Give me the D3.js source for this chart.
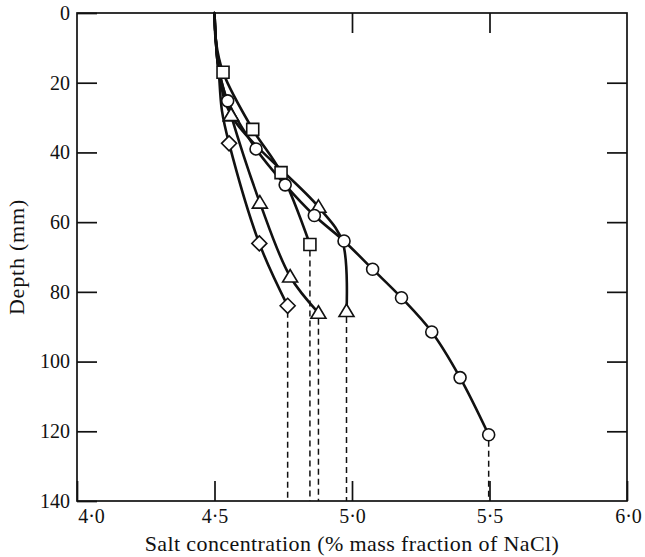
<!DOCTYPE html>
<html>
<head>
<meta charset="utf-8">
<script src="https://cdn.jsdelivr.net/npm/d3@7"></script>
<style>
  html, body { margin: 0; padding: 0; background: #fff; }
  svg { display: block; }
  text { font-family: "Liberation Serif", "DejaVu Serif", serif; fill: #111; }
</style>
</head>
<body>
<svg id="chart" width="645" height="557"></svg>
<script>
// Salt concentration profiles with depth (five runs), plus the shared upper trunk.
const xTicks = [4.0, 4.5, 5.0, 5.5, 6.0];
const yTicks = [0, 20, 40, 60, 80, 100, 120, 140];

// upper part of the profiles, common to every run (no markers)
const trunkDepth = [0, 8, 16];
const trunkConc = [4.500, 4.505, 4.515];

// circles
const circleDepth = [25.2, 39.0, 49.3, 58.1, 65.4, 73.5, 81.7, 91.5, 104.6, 121.0];
const circleConc = [4.548, 4.651, 4.757, 4.863, 4.971, 5.075, 5.180, 5.290, 5.393, 5.497];

// squares
const squareDepth = [17.0, 33.4, 45.8, 66.4];
const squareConc = [4.531, 4.639, 4.742, 4.847];

// diamonds
const diamondDepth = [37.4, 66.1, 84.0];
const diamondConc = [4.553, 4.663, 4.766];
const diamondBendDepth = [28.0];
const diamondBendConc = [4.527];

// triangles, first run
const triADepth = [29.3, 54.4, 75.6, 86.0];
const triAConc = [4.560, 4.665, 4.775, 4.878];

// triangles, second run
const triBDepth = [29.3, 55.6, 85.5];
const triBConc = [4.560, 4.878, 4.980];
const triBBendDepth = [65.5];
const triBBendConc = [4.965];

const svg = d3.select("#chart");
const W = 645, H = 557;
const margin = { top: 13, right: 18, bottom: 56, left: 77 };
const x = d3.scaleLinear().domain([4, 6]).range([margin.left, W - margin.right]);
const y = d3.scaleLinear().domain([0, 140]).range([margin.top, H - margin.bottom]);

const fmt = v => d3.format(".1f")(v).replace(".", "\u00B7");

function zip(depths, concs) {
  return depths.map((d, i) => ({ d: d, c: concs[i] }));
}

function profile(markDepth, markConc, symbol, bendDepth, bendConc) {
  const marks = zip(markDepth, markConc);
  const first = markDepth[0];
  const trunk = zip(trunkDepth, trunkConc).filter(p => p.d < first - 5);
  const bends = bendDepth ? zip(bendDepth, bendConc) : [];
  const line = trunk.concat(marks, bends).sort((a, b) => a.d - b.d);
  return { marks, line, symbol };
}

const profiles = [
  profile(diamondDepth, diamondConc, "diamond", diamondBendDepth, diamondBendConc),
  profile(triADepth, triAConc, "triangle"),
  profile(squareDepth, squareConc, "square"),
  profile(triBDepth, triBConc, "triangle", triBBendDepth, triBBendConc),
  profile(circleDepth, circleConc, "circle")
];

// frame
svg.append("rect")
  .attr("x", x(4)).attr("y", y(0))
  .attr("width", x(6) - x(4)).attr("height", y(140) - y(0))
  .attr("fill", "none").attr("stroke", "#111").attr("stroke-width", 1.7);

// axes with inward ticks
const tickLen = 20;
const gBottom = svg.append("g").attr("transform", `translate(0,${y(140)})`)
  .call(d3.axisBottom(x).tickValues(xTicks).tickSizeInner(-tickLen).tickSizeOuter(0)
    .tickPadding(8).tickFormat(fmt));
const gLeft = svg.append("g").attr("transform", `translate(${x(4)},0)`)
  .call(d3.axisLeft(y).tickValues(yTicks).tickSizeInner(-tickLen).tickSizeOuter(0)
    .tickPadding(7).tickFormat(d3.format("d")));
const gTop = svg.append("g").attr("transform", `translate(0,${y(0)})`)
  .call(d3.axisTop(x).tickValues([4.5, 5.0, 5.5]).tickSizeInner(-tickLen).tickSizeOuter(0)
    .tickFormat(""));
const gRight = svg.append("g").attr("transform", `translate(${x(6)},0)`)
  .call(d3.axisRight(y).tickValues(yTicks.slice(1, -1)).tickSizeInner(-tickLen).tickSizeOuter(0)
    .tickFormat(""));

[gBottom, gLeft, gTop, gRight].forEach(g => {
  g.select(".domain").remove();
  g.selectAll(".tick line").attr("stroke", "#111").attr("stroke-width", 1.7);
  g.selectAll(".tick text").attr("font-family", "Liberation Serif").attr("font-size", 20).attr("fill", "#111");
});
// first x label sits just inside the corner
gBottom.selectAll(".tick text").filter(d => d === 4).attr("dx", 14);
gBottom.selectAll(".tick text").filter(d => d === 6).attr("dx", 1);

// axis titles
svg.append("text")
  .attr("x", (x(4) + x(6)) / 2).attr("y", 551)
  .attr("text-anchor", "middle").attr("font-size", 22).attr("letter-spacing", 0.4)
  .text("Salt concentration (% mass fraction of NaCl)");
svg.append("text")
  .attr("transform", `translate(24,${(y(0) + y(140)) / 2}) rotate(-90)`)
  .attr("text-anchor", "middle").attr("font-size", 22).attr("letter-spacing", 0.8)
  .text("Depth (mm)");

// dashed drops from the deepest point of each run to the base
svg.append("g").selectAll("line").data(profiles).join("line")
  .attr("x1", p => x(p.marks[p.marks.length - 1].c))
  .attr("x2", p => x(p.marks[p.marks.length - 1].c))
  .attr("y1", p => y(p.marks[p.marks.length - 1].d) + 6)
  .attr("y2", y(140))
  .attr("stroke", "#111").attr("stroke-width", 1.5).attr("stroke-dasharray", "6,4");

// profile curves
const lineGen = d3.line().x(p => x(p.c)).y(p => y(p.d)).curve(d3.curveCatmullRom.alpha(0.5));
svg.append("g").selectAll("path").data(profiles).join("path")
  .attr("d", p => lineGen(p.line))
  .attr("fill", "none").attr("stroke", "#111").attr("stroke-width", 2.6)
  .attr("stroke-linejoin", "round").attr("stroke-linecap", "round");

// markers
const symbolPath = {
  circle: d3.symbol().type(d3.symbolCircle).size(Math.PI * 36)(),
  square: d3.symbol().type(d3.symbolSquare).size(144)(),
  diamond: "M0,-7.5L7.5,0L0,7.5L-7.5,0Z",
  triangle: "M0,-7L7.5,5.5L-7.5,5.5Z"
};
profiles.forEach(p => {
  svg.append("g").selectAll("path").data(p.marks).join("path")
    .attr("transform", m => `translate(${x(m.c)},${y(m.d)})`)
    .attr("d", symbolPath[p.symbol])
    .attr("fill", "#fff").attr("stroke", "#111").attr("stroke-width", 1.6);
});
</script>
</body>
</html>
